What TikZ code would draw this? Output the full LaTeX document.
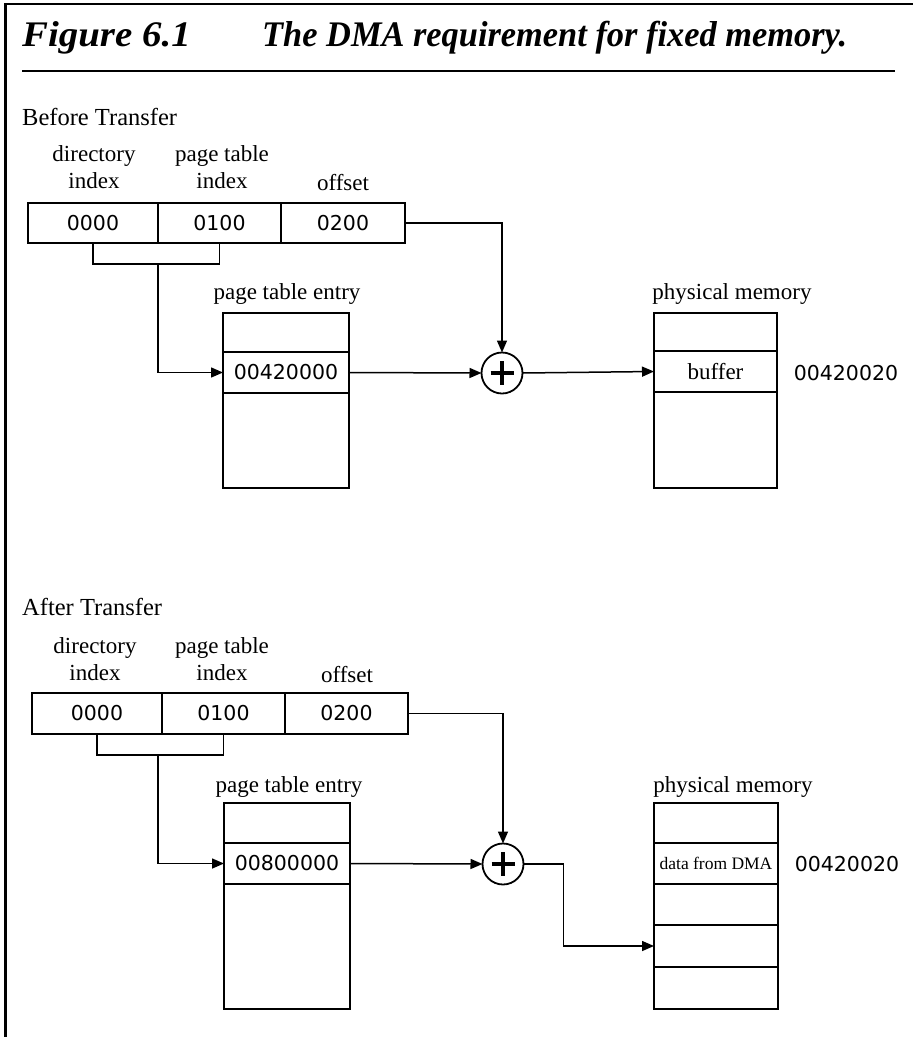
\documentclass[tikz,border=0pt]{standalone}
\usepackage{fontspec}
\setmainfont{Liberation Serif}
\newfontfamily\digitfont{DejaVu Sans}
\usetikzlibrary{arrows.meta,calc}
\begin{document}
\begin{tikzpicture}[x=1pt,y=-1pt,
  cell/.style={draw, line width=1.5pt, inner sep=0pt, outer sep=0pt, anchor=north west,
    font=\digitfont\fontsize{20.5}{24}\selectfont},
  memrow/.style={draw, line width=1.5pt, inner sep=0pt, outer sep=0pt, anchor=north west},
  serifval/.style={font=\fontsize{23}{27}\selectfont},
  smallval/.style={font=\fontsize{17.5}{20}\selectfont},
  addr/.style={inner sep=0pt, font=\digitfont\fontsize{20.5}{24}\selectfont},
  lbl/.style={inner sep=0pt, anchor=base, font=\fontsize{23}{27}\selectfont},
  heading/.style={inner sep=0pt, anchor=base west, font=\fontsize{24.5}{29}\selectfont},
  titletext/.style={inner sep=0pt, anchor=base west, font=\bfseries\itshape\fontsize{36}{42}\selectfont},
  conn/.style={line width=1.5pt, -{Triangle[length=12pt,width=10pt]}},
  plainline/.style={line width=1.5pt},
  sum/.style={circle, draw, line width=1.8pt, minimum size=41pt, inner sep=0pt, outer sep=0pt},
  plusbar/.style={line width=3.2pt},
]
\useasboundingbox (0,0) rectangle (913,1037);

% frame and title
\draw[line width=2.8pt] (5.5,1040) -- (5.5,4) -- (915,4);
\node[titletext] (fig) at (22,46) {\scalebox{1.08}[1]{Figure 6.1}};
\node[titletext] (ttl) at (262,46) {\scalebox{0.955}[1]{The DMA requirement for fixed memory.}};
\draw[line width=2.5pt] (22,71) -- (895,71);

% ================= Before Transfer =================
\node[heading] (hb) at (22,125) {Before Transfer};

\node[lbl] (ldirA) at (94,161) {directory};
\node[lbl] (ldirB) at (94,188) {index};
\node[lbl] (lptA) at (222,161) {page table};
\node[lbl] (lptB) at (222,188) {index};
\node[lbl] (loff) at (343,190) {offset};

\node[cell, minimum width=130pt, minimum height=40pt] (d1) at (28,203) {0000};
\node[cell, minimum width=123pt, minimum height=40pt] (p1) at (158,203) {0100};
\node[cell, minimum width=124pt, minimum height=40pt] (o1) at (281,203) {0200};

\draw[plainline] (d1.south) -- ++(0,21) coordinate (bl1) -| (p1.south);
\coordinate (bm1) at ($(d1.south east)+(0,21)$);

\node[lbl] (lpte1) at (287,299) {page table entry};
\node[memrow, minimum width=126pt, minimum height=39pt] (t1) at (223,313) {};
\node[memrow, minimum width=126pt, minimum height=41pt, font=\digitfont\fontsize{20.5}{24}\selectfont] (e1) at (223,352) {00420000};
\node[memrow, minimum width=126pt, minimum height=95pt] (r1) at (223,393) {};

\node[sum] (s1) at (502,373) {};
\draw[plusbar] ($(s1.center)+(-11.5,0)$) -- ($(s1.center)+(11.5,0)$);
\draw[plusbar] ($(s1.center)+(0,-12)$) -- ($(s1.center)+(0,12)$);

\node[lbl] (lpm1) at (732,299) {physical memory};
\node[memrow, minimum width=123pt, minimum height=38pt] (m1a) at (654,313) {};
\node[memrow, minimum width=123pt, minimum height=41pt, serifval] (m1b) at (654,351) {buffer};
\node[memrow, minimum width=123pt, minimum height=96pt] (m1c) at (654,392) {};
\node[addr] (a1) at (846,373) {00420020};

\draw[conn] (bm1) |- (e1.west);
\draw[conn] (o1.east) -| (s1.north);
\draw[conn] (e1.east) -- (s1.west);
\draw[conn] (s1.east) -- (m1b.west);

% ================= After Transfer =================
\node[heading] (ha) at (22,615) {After Transfer};

\node[lbl] (ldirA2) at (95,653) {directory};
\node[lbl] (ldirB2) at (95,680) {index};
\node[lbl] (lptA2) at (222,653) {page table};
\node[lbl] (lptB2) at (222,680) {index};
\node[lbl] (loff2) at (347,682) {offset};

\node[cell, minimum width=130pt, minimum height=41pt] (d2) at (32,693) {0000};
\node[cell, minimum width=123pt, minimum height=41pt] (p2) at (162,693) {0100};
\node[cell, minimum width=123pt, minimum height=41pt] (o2) at (285,693) {0200};

\draw[plainline] (d2.south) -- ++(0,21) -| (p2.south);
\coordinate (bm2) at ($(d2.south east)+(-4,21)$);

\node[lbl] (lpte2) at (289,792) {page table entry};
\node[memrow, minimum width=126pt, minimum height=40pt] (t2) at (224,803) {};
\node[memrow, minimum width=126pt, minimum height=41pt, font=\digitfont\fontsize{20.5}{24}\selectfont] (e2) at (224,843) {00800000};
\node[memrow, minimum width=126pt, minimum height=125pt] (r2) at (224,884) {};

\node[sum] (s2) at (503,864) {};
\draw[plusbar] ($(s2.center)+(-11.5,0)$) -- ($(s2.center)+(11.5,0)$);
\draw[plusbar] ($(s2.center)+(0,-12)$) -- ($(s2.center)+(0,12)$);

\node[lbl] (lpm2) at (733,792) {physical memory};
\node[memrow, minimum width=124pt, minimum height=40pt] (m2a) at (654,803) {};
\node[memrow, minimum width=124pt, minimum height=41pt, smallval] (m2b) at (654,843) {data from DMA};
\node[memrow, minimum width=124pt, minimum height=41pt] (m2c) at (654,884) {};
\node[memrow, minimum width=124pt, minimum height=42pt] (m2d) at (654,925) {};
\node[memrow, minimum width=124pt, minimum height=42pt] (m2e) at (654,967) {};
\node[addr] (a2) at (847,864) {00420020};

\draw[conn] (bm2) |- (e2.west);
\draw[conn] (o2.east) -| (s2.north);
\draw[conn] (e2.east) -- (s2.west);
\draw[conn] (s2.east) -- ++(40,0) |- (m2d.west);

\end{tikzpicture}
\end{document}
